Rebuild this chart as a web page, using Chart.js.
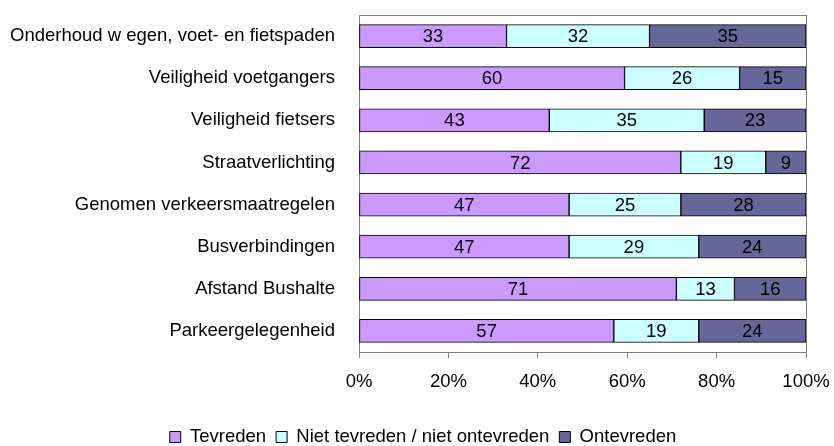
<!DOCTYPE html>
<html>
<head>
<meta charset="utf-8">
<script src="https://cdn.jsdelivr.net/npm/chart.js@4.4.1/dist/chart.umd.min.js"></script>
<style>
  html, body { margin: 0; padding: 0; background: #fff; }
  #wrap { width: 834px; height: 446px; position: relative; }
</style>
</head>
<body>
<div id="wrap"><canvas id="chart" width="834" height="446"></canvas></div>
<script>
// categories, top to bottom
const categories = [
    'Onderhoud w egen, voet- en fietspaden',
    'Veiligheid voetgangers',
    'Veiligheid fietsers',
    'Straatverlichting',
    'Genomen verkeersmaatregelen',
    'Busverbindingen',
    'Afstand Bushalte',
    'Parkeergelegenheid'
];
const tevreden = [33, 60, 43, 72, 47, 47, 71, 57];
const neutraal = [32, 26, 35, 19, 25, 29, 13, 19];
const ontevreden = [35, 15, 23, 9, 28, 24, 16, 24];
const seriesNames = ['Tevreden', 'Niet tevreden / niet ontevreden', 'Ontevreden'];
const seriesColors = ['#CC99FF', '#CCFFFF', '#666699'];
const xTicks = [0, 20, 40, 60, 80, 100];

const FONT = 'Liberation Sans, Arial, sans-serif';
const FSIZE = 18.5;
const PLOT_BOTTOM = 352;
const LEGEND_CX = 423;
const LEGEND_CY = 437;

// 100% stacked: normalise each row
const raw = [tevreden, neutraal, ontevreden];
const totals = categories.map((_, i) => raw.reduce((s, arr) => s + arr[i], 0));
const datasets = raw.map((arr, k) => ({
    label: seriesNames[k],
    data: arr.map((v, i) => v / totals[i] * 100),
    rawValues: arr,
    backgroundColor: seriesColors[k],
    borderColor: '#000',
    borderWidth: 1,
    borderSkipped: false,
    barThickness: 23
}));

// value labels in the middle of every segment
const valueLabels = {
    id: 'valueLabels',
    afterDatasetsDraw(chart) {
        const ctx = chart.ctx;
        ctx.save();
        ctx.font = FSIZE + 'px ' + FONT;
        ctx.fillStyle = '#000';
        ctx.textAlign = 'center';
        ctx.textBaseline = 'middle';
        chart.data.datasets.forEach((ds, di) => {
            chart.getDatasetMeta(di).data.forEach((bar, i) => {
                const p = bar.getProps(['x', 'y', 'base'], true);
                ctx.fillText(String(ds.rawValues[i]), (p.x + p.base) / 2, p.y + 1);
            });
        });
        ctx.restore();
    }
};

// grey frame round the plot area
const plotFrame = {
    id: 'plotFrame',
    beforeDatasetsDraw(chart) {
        const a = chart.chartArea;
        const ctx = chart.ctx;
        ctx.save();
        ctx.strokeStyle = '#808080';
        ctx.lineWidth = 1;
        ctx.strokeRect(Math.round(a.left) + 0.5, Math.round(a.top) + 0.5,
            Math.round(a.right - a.left), Math.round(a.bottom - a.top));
        ctx.restore();
    }
};

// move the legend box to where it sits in the original
const legendPlace = {
    id: 'legendPlace',
    afterLayout(chart) {
        const lg = chart.legend;
        if (!lg) return;
        const pad = lg.options.labels.padding;
        const dx = LEGEND_CX - (lg.left + lg.right) / 2;
        const dy = LEGEND_CY - (lg.top + pad + (lg.height - 2 * pad) / 2);
        lg.left += dx; lg.right += dx;
        lg.top += dy; lg.bottom += dy;
    }
};

new Chart(document.getElementById('chart').getContext('2d'), {
    type: 'bar',
    data: { labels: categories, datasets: datasets },
    options: {
        indexAxis: 'y',
        responsive: false,
        animation: false,
        layout: { padding: { top: 15, right: 28, left: 0, bottom: 0 } },
        plugins: {
            legend: {
                position: 'bottom',
                labels: {
                    font: { family: FONT, size: FSIZE },
                    color: '#000',
                    boxWidth: 11,
                    boxHeight: 11,
                    padding: 10,
                    generateLabels(chart) {
                        return chart.data.datasets.map((ds, i) => ({
                            text: ds.label,
                            fillStyle: ds.backgroundColor,
                            strokeStyle: '#000',
                            lineWidth: 1,
                            datasetIndex: i
                        }));
                    }
                }
            },
            tooltip: { enabled: false }
        },
        scales: {
            x: {
                stacked: true,
                min: 0,
                max: 100,
                afterBuildTicks(scale) { scale.ticks = xTicks.map(v => ({ value: v })); },
                afterFit(scale) {
                    const lgH = scale.chart.legend ? scale.chart.legend.height : 0;
                    scale.height = 446 - PLOT_BOTTOM - lgH;
                    scale.paddingLeft = 0;
                    scale.paddingRight = 0;
                },
                grid: { drawOnChartArea: false, color: '#808080', tickLength: 6 },
                border: { color: '#808080' },
                ticks: {
                    font: { family: FONT, size: FSIZE },
                    color: '#000',
                    padding: 13,
                    maxRotation: 0,
                    callback: (v) => v + '%'
                }
            },
            y: {
                stacked: true,
                afterFit(scale) {
                    scale.width = 359;
                    scale.paddingTop = 0;
                    scale.paddingBottom = 0;
                },
                grid: { display: false },
                border: { color: '#808080' },
                ticks: {
                    font: { family: FONT, size: FSIZE },
                    color: '#000',
                    padding: 16
                }
            }
        }
    },
    plugins: [plotFrame, valueLabels, legendPlace]
});
</script>
</body>
</html>
